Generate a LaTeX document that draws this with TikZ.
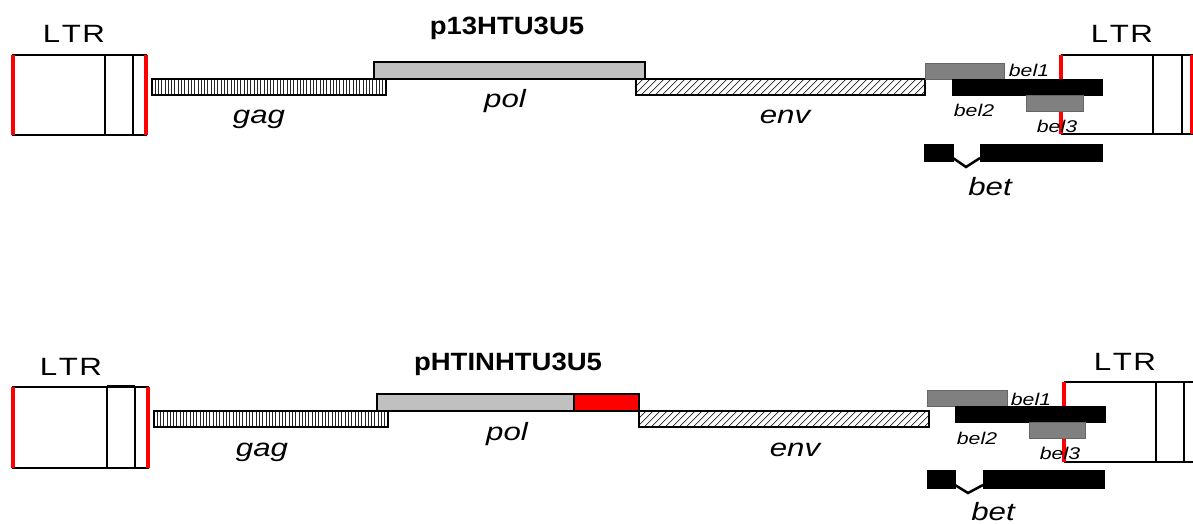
\documentclass[tikz,border=0pt]{standalone}
\usepackage{fontspec}
\setmainfont{Liberation Sans}
\newfontfamily\labfont[FakeStretch=1.25]{Liberation Sans}
\newfontfamily\ttlfont[FakeStretch=1.1]{Liberation Sans}
\definecolor{polgray}{HTML}{C0C0C0}
\definecolor{belgray}{HTML}{808080}
\newcommand{\ltrtext}{L\kern1.5pt T\kern1.5pt R}
\tikzset{
  outl/.style={draw=black, line width=2pt},
  redline/.style={draw=red, line width=3.5pt},
  polbar/.style={fill=polgray, draw=black, line width=2pt},
  redbar/.style={fill=red, draw=black, line width=2pt},
  belbar/.style={fill=belgray, draw=black!60, line width=0.8pt},
  blackbar/.style={fill=black, draw=black, line width=0.8pt},
  hatchline/.style={draw=black!85, line width=0.7pt},
  ltrlabel/.style={anchor=base, inner sep=0pt, font=\labfont\fontsize{25}{30}\selectfont},
  genelabel/.style={anchor=base, inner sep=0pt, font=\labfont\itshape\fontsize{25}{30}\selectfont},
  bellabel/.style={anchor=base, inner sep=0pt, font=\labfont\itshape\fontsize{17}{20}\selectfont},
  titlelabel/.style={anchor=base, inner sep=0pt, font=\ttlfont\bfseries\fontsize{25}{30}\selectfont},
}
\begin{document}
\begin{tikzpicture}[x=1pt, y=-1pt]
\useasboundingbox (0,0) rectangle (1193,524);

%% ===================== TOP DIAGRAM =====================
\node[titlelabel] (t1) at (507,35) {p13HTU3U5};
% left LTR
\node[ltrlabel] (ltrA1) at (74,43) {\ltrtext};
\draw[outl] (13,55) rectangle (146,135);
\draw[outl] (105,55) -- (105,135) (133,55) -- (133,135);
\draw[redline] (13,55) -- (13,135) (146,55) -- (146,135);
% gag
\begin{scope}
  \clip (152,79) rectangle (386,95);
  \foreach \x in {155,158.3,...,386} \draw[hatchline] (\x,79) -- (\x,95);
\end{scope}
\draw[outl] (152,79) rectangle (386,95);
\node[genelabel] (gag1) at (259,124) {gag};
% pol
\draw[polbar] (374,62) rectangle (645,79);
\node[genelabel] (pol1) at (505,108) {pol};
% env
\begin{scope}
  \clip (636,79) rectangle (925,95);
  \foreach \x in {620,627,...,930} \draw[hatchline] (\x,95) -- (\x+16,79);
\end{scope}
\draw[outl] (636,79) rectangle (925,95);
\node[genelabel] (env1) at (785,124) {env};
% right LTR
\node[ltrlabel] (ltrB1) at (1122,43) {\ltrtext};
\draw[outl] (1061,55) -- (1194,55) (1061,134) -- (1194,134);
\draw[outl] (1153,55) -- (1153,134) (1182,55) -- (1182,134);
\draw[redline] (1061,55) -- (1061,134) (1192,55) -- (1192,134);
% bel
\draw[belbar] (925,63) rectangle (1004,79);
\draw[blackbar] (952,79) rectangle (1102,95);
\draw[belbar] (1026,95) rectangle (1083,111);
\node[bellabel] (bel1a) at (1029,77) {bel1};
\node[bellabel] (bel2a) at (974,117) {bel2};
\node[bellabel] (bel3a) at (1057,132) {bel3};
% bet
\draw[blackbar] (924,144) rectangle (953,161);
\draw[blackbar] (980,144) rectangle (1102,161);
\draw[draw=black, line width=2.5pt] (953,158) -- (966,167) -- (980,158);
\node[genelabel] (bet1) at (990,195) {bet};

%% ===================== BOTTOM DIAGRAM =====================
\node[titlelabel] (t2) at (508,370) {pHTINHTU3U5};
% left LTR
\node[ltrlabel] (ltrA2) at (71,375) {\ltrtext};
\draw[outl] (13,387) rectangle (148,468);
\draw[outl] (107,386) -- (107,468) (135,387) -- (135,468);
\draw[outl] (107,386) -- (135,386);
\draw[redline] (13,387) -- (13,468) (148,387) -- (148,468);
% gag
\begin{scope}
  \clip (154,411) rectangle (388,427);
  \foreach \x in {157,160.3,...,388} \draw[hatchline] (\x,411) -- (\x,427);
\end{scope}
\draw[outl] (154,411) rectangle (388,427);
\node[genelabel] (gag2) at (262,456) {gag};
% pol
\draw[polbar] (377,394) rectangle (574,411);
\draw[redbar] (574,394) rectangle (639,411);
\node[genelabel] (pol2) at (507,440) {pol};
% env
\begin{scope}
  \clip (639,411) rectangle (929,427);
  \foreach \x in {623,630,...,934} \draw[hatchline] (\x,427) -- (\x+16,411);
\end{scope}
\draw[outl] (639,411) rectangle (929,427);
\node[genelabel] (env2) at (795,456) {env};
% right LTR
\node[ltrlabel] (ltrB2) at (1125,370) {\ltrtext};
\draw[outl] (1064,382) -- (1194,382) (1064,462) -- (1194,462);
\draw[outl] (1156,382) -- (1156,462) (1184,382) -- (1184,462);
\draw[redline] (1064,382) -- (1064,462);
% bel
\draw[belbar] (927,390) rectangle (1007,406);
\draw[blackbar] (955,406) rectangle (1105,422);
\draw[belbar] (1029,422) rectangle (1085,438);
\node[bellabel] (bel1b) at (1031,405) {bel1};
\node[bellabel] (bel2b) at (977,444) {bel2};
\node[bellabel] (bel3b) at (1060,459) {bel3};
% bet
\draw[blackbar] (927,470) rectangle (955,488);
\draw[blackbar] (983,470) rectangle (1104,488);
\draw[draw=black, line width=2.5pt] (955,485) -- (968,493) -- (983,485);
\node[genelabel] (bet2) at (993,520) {bet};
\end{tikzpicture}
\end{document}
